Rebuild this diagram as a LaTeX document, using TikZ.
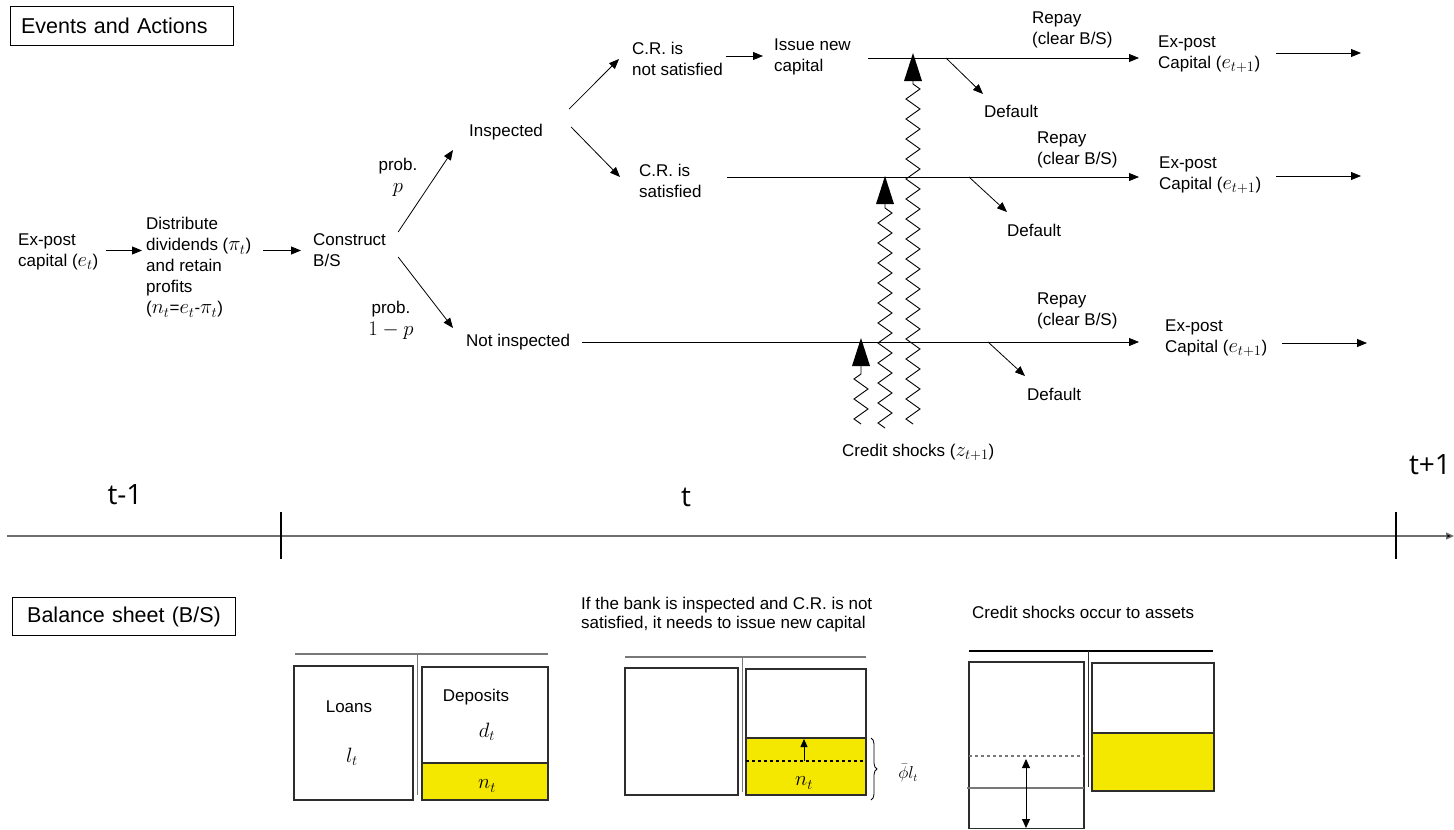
\documentclass[tikz,border=0pt]{standalone}
\usepackage{fontspec}
\setmainfont{Liberation Sans}
\newfontfamily\timefont{Open Sans}
\usetikzlibrary{arrows.meta,decorations.pathmorphing,decorations.pathreplacing,calc}
\definecolor{bsyellow}{RGB}{245,232,0}
\definecolor{bsline}{RGB}{45,45,45}
\definecolor{bsgray}{RGB}{120,120,120}
\definecolor{axgray}{RGB}{110,110,110}
\newcommand{\mth}[1]{{\fontsize{20}{21}\selectfont$#1$}}
\begin{document}
\begin{tikzpicture}[x=1pt,y=-1pt,
  lbl/.style={inner sep=0pt, anchor=west, align=left, font=\fontsize{17}{21}\selectfont},
  lblc/.style={inner sep=0pt, align=center, font=\fontsize{17}{22}\selectfont},
  smalllbl/.style={inner sep=0pt, anchor=west, align=left, font=\fontsize{17}{19.5}\selectfont},
  arr/.style={-{Triangle[length=10pt,width=8pt]}, line width=0.8pt},
  shock/.style={decorate, decoration={zigzag, segment length=20pt, amplitude=7pt}, line width=0.9pt},
  titlebox/.style={draw, line width=1pt, inner ysep=0pt, font=\fontsize{21.5}{26}\selectfont},
  tlbl/.style={inner sep=0pt, font=\timefont\fontsize{28}{32}\selectfont},
  bsbox/.style={draw=bsline, line width=1.6pt},
  bstop/.style={draw=bsgray, line width=1.5pt},
  bsdiv/.style={draw=bsgray, line width=1pt},
  mathlbl/.style={inner sep=0pt, font=\fontsize{17}{21}\selectfont}
]
\useasboundingbox (0,0) rectangle (1454,830);
\fill[white] (0,0) rectangle (1454,830);

% ---------- Events and Actions ----------
\node[titlebox, anchor=north west, minimum width=223pt, minimum height=39pt,
      text width=201pt, inner xsep=11pt, align=left] (ev) at (9.6,6) {Events and Actions};

\node[lbl] (exA) at (18,252) {Ex-post\\capital (\mth{e_t})};
\node[lbl] (dist) at (146,267.5) {Distribute\\dividends (\mth{\pi_t})\\and retain\\profits\\(\mth{n_t}=\mth{e_t}-\mth{\pi_t})};
\node[lbl] (cons) at (313,250.5) {Construct\\B/S};
\node[lbl] (insp) at (469,132) {Inspected};
\node[lbl] (ninsp) at (466,342) {Not inspected};
\node[lblc] (pp) at (398,177) {prob.\\\mth{p}};
\node[lblc] (pq) at (391,320.5) {prob.\\\mth{1-p}};
\node[lbl] (crn) at (632,58.5) {C.R. is\\not satisfied};
\node[lbl] (crs) at (639,180.5) {C.R. is\\satisfied};
\node[lbl] (iss) at (774,56.5) {Issue new\\capital};
\node[lbl] (def1) at (984,111) {Default};
\node[lbl] (def2) at (1007,230) {Default};
\node[lbl] (def3) at (1027,394) {Default};
\node[lbl] (rep1) at (1032,29.5) {Repay\\(clear B/S)};
\node[lbl] (rep2) at (1037,149.5) {Repay\\(clear B/S)};
\node[lbl] (rep3) at (1037,310.5) {Repay\\(clear B/S)};
\node[lbl] (ex1) at (1158,54.5) {Ex-post\\Capital (\mth{e_{t+1}})};
\node[lbl] (ex2) at (1159,175.5) {Ex-post\\Capital (\mth{e_{t+1}})};
\node[lbl] (ex3) at (1165,338.5) {Ex-post\\Capital (\mth{e_{t+1}})};
\node[lbl] (cs) at (842,452) {Credit shocks (\mth{z_{t+1}})};

\coordinate (d1s) at (946,58);
\coordinate (d2s) at (969,177);
\coordinate (d3s) at (988,342);
\coordinate (o1) at (1361,53);
\coordinate (o2) at (1361,176);
\coordinate (o3) at (1367,343);

\draw[arr] ([shift={(7,0)}]exA.east |- cons.west) -- ([shift={(-4,0)}]dist.west |- cons.west);
\draw[arr] ([shift={(12,0)}]dist.east |- cons.west) -- ([shift={(-12,0)}]cons.west);
\draw[arr] ([shift={(12,-18.5)}]cons.east) -- ([shift={(-16,18)}]insp.west);
\draw[arr] ([shift={(12,6.5)}]cons.east) -- ([shift={(-13,-14)}]ninsp.west);
\draw[arr] ([shift={(26,-23)}]insp.east) -- ([shift={(-13,0.5)}]crn.west);
\draw[arr] ([shift={(28,-5)}]insp.east) -- ([shift={(-19,-3.5)}]crs.west);
\draw[arr] ([shift={(3,-2.5)}]crn.east) -- ([shift={(-11,-0.5)}]iss.west);
\draw[arr] ([shift={(17,1.5)}]iss.east) -- ([shift={(-19,3.5)}]ex1.west);
\draw[arr] ([shift={(25,-3.5)}]crs.east) -- ([shift={(-20,1.5)}]ex2.west);
\draw[arr] ([shift={(12,0)}]ninsp.east) -- ([shift={(-26,3.5)}]ex3.west);
\draw[arr] (d1s) -- ([shift={(-1,-17)}]def1.west);
\draw[arr] (d2s) -- ([shift={(0,-18)}]def2.west);
\draw[arr] (d3s) -- ([shift={(-2,-18)}]def3.west);
\draw[arr] ([shift={(16,0)}]ex1.east |- o1) -- (o1);
\draw[arr] ([shift={(15,0)}]ex2.east |- o2) -- (o2);
\draw[arr] ([shift={(15,0)}]ex3.east |- o3) -- (o3);

% ---------- credit shocks (zigzags) ----------
\draw[shock] (861,424) -- (861,366);
\fill (852,366) -- (870,366) -- (861,338) -- cycle;
\draw[shock] (885,428) -- (885,204);
\fill (876,204) -- (894,204) -- (885,176) -- cycle;
\draw[shock] (913,424) -- (913,81);
\fill (904,81) -- (922,81) -- (913,53) -- cycle;

% ---------- timeline ----------
\coordinate (ax0) at (7,536);
\coordinate (ax1) at (1454,536);
\draw[draw=axgray, line width=1.3pt, -{Triangle[length=8pt,width=7pt,fill=black]}] (ax0) -- (ax1);
\draw[line width=2.2pt] (281,512) -- (281,559);
\draw[line width=2.2pt] (1396,512) -- (1396,559);
\node[tlbl] (tm1) at (125,495) {t-1};
\node[tlbl] (tt) at (686,497) {t};
\node[tlbl] (tp1) at (1430,465) {t+1};

% ---------- Balance sheet ----------
\node[titlebox, anchor=north west, minimum width=223pt, minimum height=38pt,
      text width=201pt, inner xsep=11pt, align=center] (bs) at (12,597) {Balance sheet (B/S)};
\node[smalllbl] (cap2) at (581,614.5) {If the bank is inspected and C.R. is not\\satisfied, it needs to issue new capital};
\node[smalllbl] (cap3) at (972,612) {Credit shocks occur to assets};

% BS 1
\draw[bstop] (295,654) -- (548,654);
\draw[bsdiv] (417,654) -- (417,795);
\draw[bsbox] (294,666) rectangle (413,800);
\fill[bsyellow] (422,763) rectangle (548,800);
\draw[bsbox] (422,667) rectangle (548,800);
\draw[bsbox] (422,763) -- (548,763);
\node[mathlbl] (loans) at (349,707) {Loans};
\node[mathlbl] (lt) at (352,757) {\mth{l_t}};
\node[mathlbl] (dep) at (476,697) {Deposits};
\node[mathlbl] (dt) at (487,732) {\mth{d_t}};
\node[mathlbl] (nt1) at (487,786) {\mth{n_t}};

% BS 2
\draw[bstop] (625,657) -- (866,657);
\draw[bsdiv] (742,657) -- (742,792);
\draw[bsbox] (625,668) rectangle (738,795);
\fill[bsyellow] (746,738) rectangle (866,795);
\draw[bsbox] (746,669) rectangle (866,795);
\draw[bsbox] (746,738) -- (866,738);
\draw[line width=1.2pt, dashed] (746,761) -- (866,761);
\draw[line width=0.8pt, -{Triangle[length=8pt,width=7pt]}] (804,761) -- (804,739);
\node[mathlbl] (nt2) at (804,783) {\mth{n_t}};
\draw[line width=0.8pt, decorate, decoration={brace, amplitude=6pt}] (871,738) -- (871,800);
\node[inner sep=0pt, font=\fontsize{16}{18}\selectfont] (phil) at (908,773) {$\bar{\phi} l_t$};

% BS 3
\draw[line width=1.3pt] (969,651) -- (1213,651);
\draw[draw=bsline, line width=1pt] (1088,651) -- (1088,787);
\draw[bsbox] (969,662) rectangle (1084,828.5);
\draw[draw=bsgray, line width=1.4pt, dashed] (969,756) -- (1084,756);
\draw[draw=bsgray, line width=1.2pt] (967,788) -- (1084,788);
\draw[line width=0.8pt, {Triangle[length=9pt,width=8pt]}-{Triangle[length=9pt,width=8pt]}] (1026,759) -- (1026,828);
\fill[bsyellow] (1092,733) rectangle (1214,791);
\draw[bsbox] (1092,663) rectangle (1214,791);
\draw[bsbox] (1092,733) -- (1214,733);
\end{tikzpicture}
\end{document}
